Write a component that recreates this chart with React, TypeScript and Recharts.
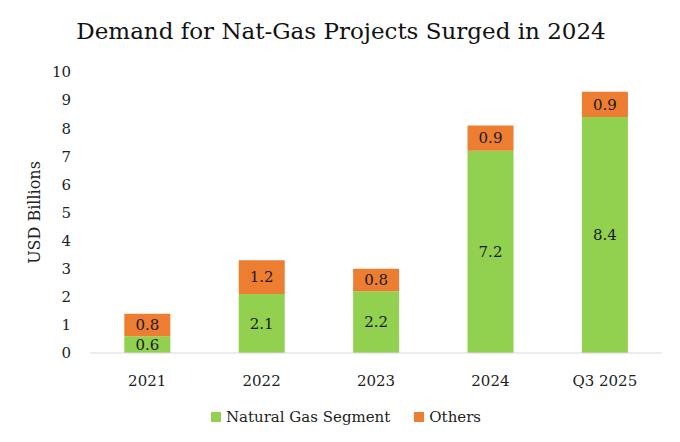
import React from "react";
import { BarChart, Bar, XAxis, YAxis, LabelList } from "recharts";

const categories = ["2021", "2022", "2023", "2024", "Q3 2025"];
const naturalGas = [0.6, 2.1, 2.2, 7.2, 8.4];
const others = [0.8, 1.2, 0.8, 0.9, 0.9];
const yTicks = [0, 1, 2, 3, 4, 5, 6, 7, 8, 9, 10];
const seriesNames = ["Natural Gas Segment", "Others"];
const seriesColors = ["#92D050", "#ED7D31"];

const data = categories.map((c, i) => ({ name: c, gas: naturalGas[i], others: others[i] }));

const FONT = "'DejaVu Serif', 'Liberation Serif', serif";

export default function App() {
  return (
    <div style={{ position: "absolute", left: 0, top: 0, width: 680, height: 442, background: "#fff" }}>
      <div style={{ position: "absolute", left: 1, top: 18, width: 680, textAlign: "center", fontFamily: FONT, fontSize: 23, color: "#111" }}>
        Demand for Nat-Gas Projects Surged in 2024
      </div>
      <BarChart width={680} height={442} data={data} margin={{ top: 72, right: 18, bottom: 59, left: 0 }} barCategoryGap="30%">
        <XAxis dataKey="name" axisLine={{ stroke: "#D9D9D9" }} tickLine={false} tickMargin={16}
          tick={{ fontFamily: FONT, fontSize: 15, fill: "#222" }} />
        <YAxis domain={[0, 10]} ticks={yTicks} width={90} axisLine={false} tickLine={false} tickMargin={13}
          tick={{ fontFamily: FONT, fontSize: 15, fill: "#222" }}
          label={{ value: "USD Billions", angle: -90, position: "insideLeft", offset: 34, style: { fontFamily: FONT, fontSize: 16, fill: "#222", textAnchor: "middle" } }} />
        <Bar dataKey="gas" name={seriesNames[0]} stackId="a" fill={seriesColors[0]} isAnimationActive={false}>
          <LabelList dataKey="gas" position="center" style={{ fontFamily: FONT, fontSize: 15, fill: "#1a1a1a" }} />
        </Bar>
        <Bar dataKey="others" name={seriesNames[1]} stackId="a" fill={seriesColors[1]} isAnimationActive={false}>
          <LabelList dataKey="others" position="center" style={{ fontFamily: FONT, fontSize: 15, fill: "#1a1a1a" }} />
        </Bar>
      </BarChart>
      <div style={{ position: "absolute", left: 0, top: 408, width: 680, display: "flex", justifyContent: "center", alignItems: "center", fontFamily: FONT, fontSize: 15, color: "#222", paddingLeft: 12, boxSizing: "border-box" }}>
        <span style={{ display: "inline-block", width: 10, height: 10, background: seriesColors[0], marginRight: 5 }} />
        <span style={{ marginRight: 24 }}>{seriesNames[0]}</span>
        <span style={{ display: "inline-block", width: 10, height: 10, background: seriesColors[1], marginRight: 5 }} />
        <span>{seriesNames[1]}</span>
      </div>
    </div>
  );
}
